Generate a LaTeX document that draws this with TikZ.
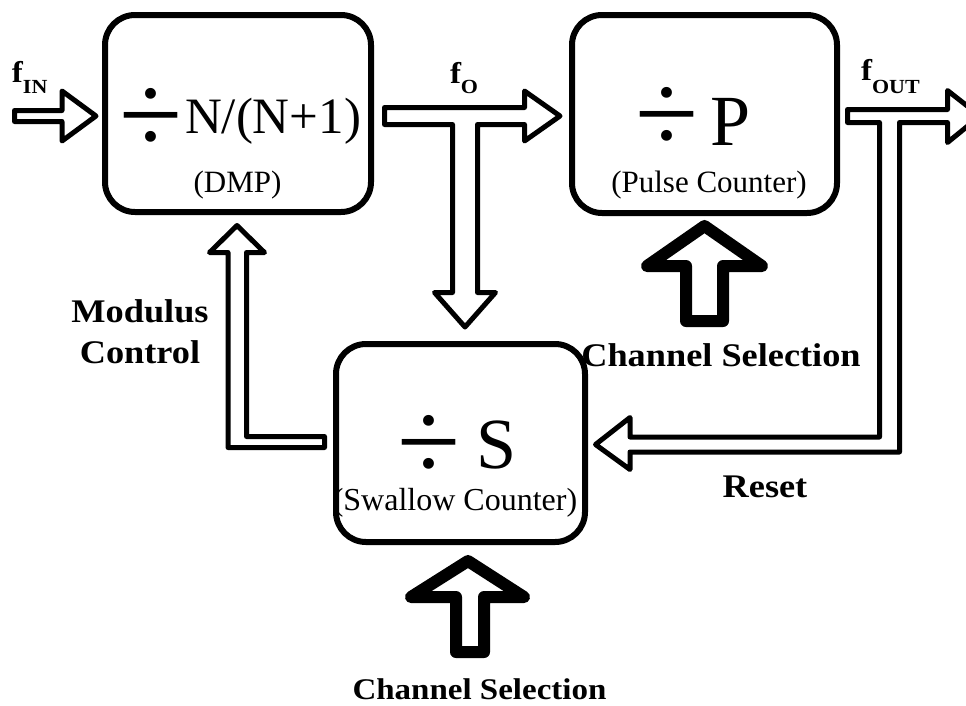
\documentclass[tikz,border=0pt]{standalone}
\usepackage{fontspec}
\setmainfont{Liberation Serif}
\newfontfamily\lblfont{Liberation Serif}[FakeStretch=1.1]
\newcommand{\divglyph}{\raisebox{0pt}[\height][0pt]{÷}}
\begin{document}
\begin{tikzpicture}[x=1pt,y=-1pt,
  block/.style={draw=black,line width=6pt,rounded corners=30pt,fill=white},
  txt/.style={inner sep=0pt,outer sep=0pt},
  divsign/.style={inner sep=0pt,outer sep=0pt,anchor=base,font=\fontsize{115}{115}\selectfont},
  lbl/.style={inner sep=0pt,outer sep=0pt,anchor=base},
  hollow/.style={draw=black,fill=white,line width=5pt,line join=round},
  bold arrow/.style={draw=black,fill=white,line width=12pt,line join=round}]
\clip (0,0) rectangle (966,705);
\fill[white] (0,0) rectangle (966,705);

% counter blocks
\node[block,minimum width=266pt,minimum height=197pt] (dmp) at (238,113.5) {};
\node[block,minimum width=265pt,minimum height=198pt] (pc) at (704.5,114) {};
\node[block,minimum width=249pt,minimum height=198pt] (sc) at (460.5,443) {};

% block contents
\node[divsign] (dmpdiv) at (151,153) {\divglyph};
\node[txt,anchor=base west,font=\fontsize{51}{51}\selectfont] (dmpratio) at (185,133) {N/(N+1)};
\node[txt,anchor=base,font=\fontsize{31}{31}\selectfont] (dmpname) at (237.5,192) {(DMP)};

\node[divsign] (pcdiv) at (667.5,152) {\divglyph};
\node[txt,anchor=base west,font=\fontsize{72}{72}\selectfont] (pcval) at (710,145) {P};
\node[txt,anchor=base,font=\fontsize{31}{31}\selectfont] (pcname) at (709,192) {(Pulse Counter)};

\node[divsign] (scdiv) at (429,480) {\divglyph};
\node[txt,anchor=base west,font=\fontsize{72}{72}\selectfont] (scval) at (476,468) {S};
\node[txt,anchor=base,font=\fontsize{32}{32}\selectfont] (scname) at (455,510) {(Swallow Counter)};

% signal labels
\node[txt,anchor=base west,font=\lblfont\bfseries\fontsize{30}{30}\selectfont] (fin) at (12,82)
  {f\raisebox{-11pt}{\fontsize{20}{20}\selectfont IN}};
\node[txt,anchor=base west,font=\lblfont\bfseries\fontsize{30}{30}\selectfont] (fo) at (450,83)
  {f\raisebox{-10pt}{\fontsize{20}{20}\selectfont O}};
\node[txt,anchor=base west,font=\lblfont\bfseries\fontsize{30}{30}\selectfont] (fout) at (861,80)
  {f\raisebox{-13pt}{\fontsize{20}{20}\selectfont OUT}};

\node[lbl,font=\lblfont\bfseries\fontsize{33}{33}\selectfont] (modA) at (140,322) {Modulus};
\node[lbl,font=\lblfont\bfseries\fontsize{33}{33}\selectfont] (modB) at (140,363) {Control};
\node[lbl,font=\lblfont\bfseries\fontsize{33}{33}\selectfont] (chsA) at (721,366) {Channel Selection};
\node[lbl,font=\lblfont\bfseries\fontsize{33}{33}\selectfont] (rst) at (765,497) {Reset};
\node[lbl,font=\lblfont\bfseries\fontsize{30}{30}\selectfont] (chsB) at (479.5,699) {Channel Selection};

% f_IN into the dual-modulus prescaler
\draw[hollow] (14.5,110.5) -- (62,110.5) -- (62,91) -- (96,116) -- (62,141)
  -- (62,121.5) -- (14.5,121.5) -- cycle;

% f_O to the pulse counter, branching down to the swallow counter
\draw[hollow] (384.5,107.5) -- (524.5,107.5) -- (524.5,91) -- (560,116) -- (524.5,141)
  -- (524.5,124.5) -- (477.5,124.5) -- (477.5,292.5) -- (495.5,292.5) -- (465,327)
  -- (434.5,292.5) -- (452.5,292.5) -- (452.5,124.5) -- (384.5,124.5) -- cycle;

% f_OUT, with the reset path back to the swallow counter
\draw[hollow] (847.5,109.5) -- (947.5,109.5) -- (947.5,90.5) -- (980,116) -- (947.5,142.5)
  -- (947.5,122.5) -- (899.5,122.5) -- (899.5,452) -- (630,452) -- (630,469.5)
  -- (595.5,444.5) -- (630,417.5) -- (630,437) -- (879.5,437) -- (879.5,122.5)
  -- (847.5,122.5) -- cycle;

% modulus control from the swallow counter to the prescaler
\draw[hollow] (324.5,436.5) -- (246.5,436.5) -- (246.5,252.5) -- (264.5,252.5)
  -- (237,225.5) -- (209.5,252.5) -- (228,252.5) -- (228,447.5) -- (324.5,447.5) -- cycle;

% channel selection inputs
\draw[bold arrow] (686,321) -- (686,266) -- (647,266) -- (704.5,226) -- (762,266)
  -- (723,266) -- (723,321) -- cycle;
\draw[bold arrow] (456,652) -- (456,597) -- (411,597) -- (468,561) -- (524,597)
  -- (484,597) -- (484,652) -- cycle;
\end{tikzpicture}
\end{document}
